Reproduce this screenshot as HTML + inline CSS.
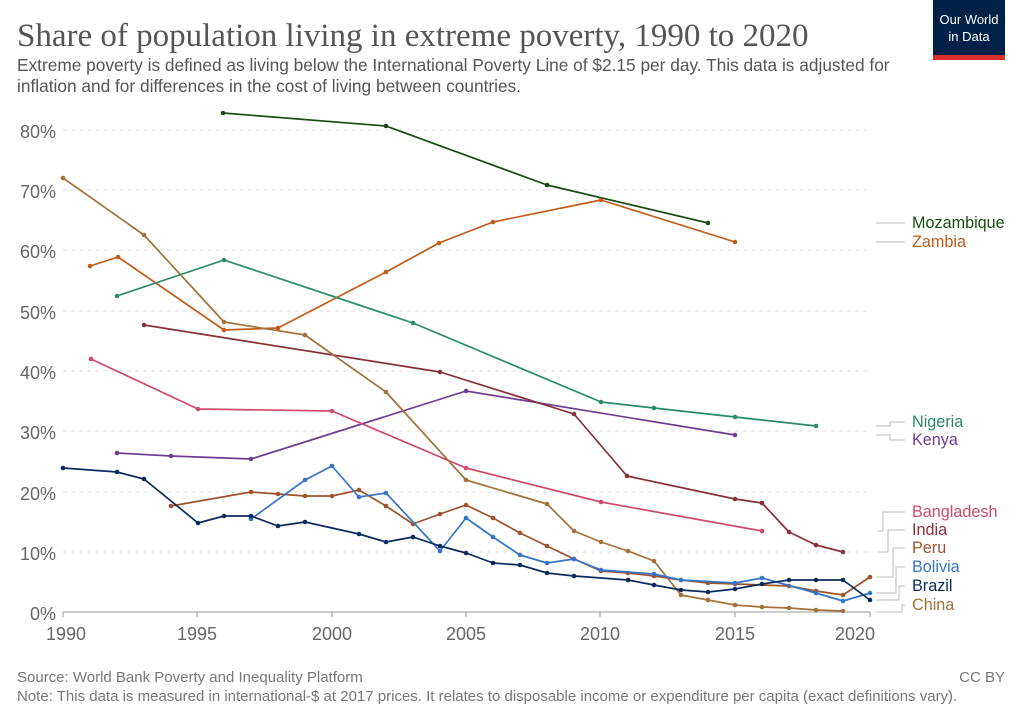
<!DOCTYPE html><html><head><meta charset="utf-8"><style>
body{margin:0;background:#fff;width:1024px;height:722px;overflow:hidden;font-family:"Liberation Sans",sans-serif}
</style></head><body>
<svg width="1024" height="722" xmlns="http://www.w3.org/2000/svg" font-family="Liberation Sans, sans-serif">
<defs>
<marker id="m1" markerUnits="userSpaceOnUse" markerWidth="6" markerHeight="6" refX="3" refY="3"><circle cx="3" cy="3" r="2.3" fill="#1a4b14"/></marker>
<marker id="m2" markerUnits="userSpaceOnUse" markerWidth="6" markerHeight="6" refX="3" refY="3"><circle cx="3" cy="3" r="2.3" fill="#c15c1b"/></marker>
<marker id="m3" markerUnits="userSpaceOnUse" markerWidth="6" markerHeight="6" refX="3" refY="3"><circle cx="3" cy="3" r="2.3" fill="#2a8a6a"/></marker>
<marker id="m4" markerUnits="userSpaceOnUse" markerWidth="6" markerHeight="6" refX="3" refY="3"><circle cx="3" cy="3" r="2.3" fill="#6d3e91"/></marker>
<marker id="m5" markerUnits="userSpaceOnUse" markerWidth="6" markerHeight="6" refX="3" refY="3"><circle cx="3" cy="3" r="2.3" fill="#883039"/></marker>
<marker id="m6" markerUnits="userSpaceOnUse" markerWidth="6" markerHeight="6" refX="3" refY="3"><circle cx="3" cy="3" r="2.3" fill="#cf4a6a"/></marker>
<marker id="m7" markerUnits="userSpaceOnUse" markerWidth="6" markerHeight="6" refX="3" refY="3"><circle cx="3" cy="3" r="2.3" fill="#a2723a"/></marker>
<marker id="m8" markerUnits="userSpaceOnUse" markerWidth="6" markerHeight="6" refX="3" refY="3"><circle cx="3" cy="3" r="2.3" fill="#a0522d"/></marker>
<marker id="m9" markerUnits="userSpaceOnUse" markerWidth="6" markerHeight="6" refX="3" refY="3"><circle cx="3" cy="3" r="2.3" fill="#3575c8"/></marker>
<marker id="m10" markerUnits="userSpaceOnUse" markerWidth="6" markerHeight="6" refX="3" refY="3"><circle cx="3" cy="3" r="2.3" fill="#0d2a5c"/></marker>
</defs>
<text x="17" y="46" font-family="Liberation Serif, serif" font-size="33" fill="#555">Share of population living in extreme poverty, 1990 to 2020</text>
<text x="17" y="71" font-size="17.3" fill="#555">Extreme poverty is defined as living below the International Poverty Line of $2.15 per day. This data is adjusted for</text>
<text x="17" y="92" font-size="17.3" fill="#555">inflation and for differences in the cost of living between countries.</text>
<rect x="933" y="0" width="72" height="55" fill="#002147"/><rect x="933" y="55" width="72" height="5" fill="#dc2f2f"/>
<text x="969" y="24" font-size="13" fill="#fff" text-anchor="middle">Our World</text>
<text x="969" y="41" font-size="13" fill="#fff" text-anchor="middle">in Data</text>
<g stroke="#ddd" stroke-dasharray="4,4" stroke-width="1">
<line x1="63" x2="870" y1="130" y2="130"/><line x1="63" x2="870" y1="190" y2="190"/><line x1="63" x2="870" y1="250" y2="250"/><line x1="63" x2="870" y1="311" y2="311"/><line x1="63" x2="870" y1="371" y2="371"/><line x1="63" x2="870" y1="431" y2="431"/><line x1="63" x2="870" y1="492" y2="492"/><line x1="63" x2="870" y1="552" y2="552"/>
</g>
<line x1="63" x2="870" y1="612" y2="612" stroke="#999"/>
<g font-size="18" fill="#666" text-anchor="end">
<text x="56" y="138">80%</text><text x="56" y="198">70%</text><text x="56" y="258">60%</text><text x="56" y="319">50%</text><text x="56" y="379">40%</text><text x="56" y="439">30%</text><text x="56" y="500">20%</text><text x="56" y="560">10%</text><text x="56" y="620">0%</text>
</g>
<g stroke="#999"><line x1="63" x2="63" y1="612" y2="617"/><line x1="197" x2="197" y1="612" y2="617"/><line x1="332" x2="332" y1="612" y2="617"/><line x1="466" x2="466" y1="612" y2="617"/><line x1="600" x2="600" y1="612" y2="617"/><line x1="735" x2="735" y1="612" y2="617"/><line x1="870" x2="870" y1="612" y2="617"/></g>
<g font-size="18" fill="#666" text-anchor="middle">
<text x="66" y="640">1990</text><text x="197" y="640">1995</text><text x="332" y="640">2000</text><text x="466" y="640">2005</text><text x="600" y="640">2010</text><text x="735" y="640">2015</text><text x="855" y="640">2020</text>
</g>
<g fill="none" stroke-width="1.7" stroke-linejoin="round">
<polyline stroke="#1a4b14" marker-start="url(#m1)" marker-mid="url(#m1)" marker-end="url(#m1)" points="223,113 386,126 547,185 708,223"/>
<polyline stroke="#c15c1b" marker-start="url(#m2)" marker-mid="url(#m2)" marker-end="url(#m2)" points="90,266 118,257 224,330 278,328 386,272 439,243 493,222 601,200 735,242"/>
<polyline stroke="#2a8a6a" marker-start="url(#m3)" marker-mid="url(#m3)" marker-end="url(#m3)" points="117,296 224,260 413,323 601,402 654,408 735,417 816,426"/>
<polyline stroke="#6d3e91" marker-start="url(#m4)" marker-mid="url(#m4)" marker-end="url(#m4)" points="117,453 171,456 251,459 466,391 735,435"/>
<polyline stroke="#883039" marker-start="url(#m5)" marker-mid="url(#m5)" marker-end="url(#m5)" points="144,325 440,372 574,414 627,476 735,499 762,503 789,532 816,545 843,552"/>
<polyline stroke="#cf4a6a" marker-start="url(#m6)" marker-mid="url(#m6)" marker-end="url(#m6)" points="91,359 198,409 332,411 466,468 601,502 762,531"/>
<polyline stroke="#a2723a" marker-start="url(#m7)" marker-mid="url(#m7)" marker-end="url(#m7)" points="63,178 144,235 224,322 305,335 386,392 466,480 547,504 574,531 601,542 628,551 654,561 681,595 708,600 735,605 762,607 789,608 816,610 843,611"/>
<polyline stroke="#a0522d" marker-start="url(#m8)" marker-mid="url(#m8)" marker-end="url(#m8)" points="171,506 251,492 278,494 305,496 332,496 359,490 386,506 413,524 440,514 466,505 493,518 520,533 547,546 574,559 601,571 628,573 654,576 681,580 708,583 735,584 789,586 816,591 843,595 870,577"/>
<polyline stroke="#3575c8" marker-start="url(#m9)" marker-mid="url(#m9)" marker-end="url(#m9)" points="251,519 305,480 332,466 359,497 386,493 440,551 466,518 493,537 520,555 547,563 574,559 601,570 654,574 681,580 735,583 762,578 816,593 843,601 870,593"/>
<polyline stroke="#0d2a5c" marker-start="url(#m10)" marker-mid="url(#m10)" marker-end="url(#m10)" points="63,468 117,472 144,479 198,523 224,516 251,516 278,526 305,522 359,534 386,542 413,537 440,546 466,553 493,563 520,565 547,573 574,576 628,580 654,585 681,590 708,592 735,589 762,584 789,580 816,580 843,580 870,600"/>
</g>
<g stroke="#bbb" fill="none" stroke-width="1">
<polyline points="876,223 905,223"/><polyline points="876,242 905,242"/>
<polyline points="876,426 890,426 890,422 905,422"/><polyline points="876,435 890,435 890,440 905,440"/>
<polyline points="878,531 883,531 883,512 905,512"/><polyline points="878,552 888,552 888,530 905,530"/>
<polyline points="876,577 893,577 893,548 905,548"/><polyline points="876,593 896,593 896,567 905,567"/>
<polyline points="876,600 899,600 899,586 905,586"/><polyline points="876,612 902,612 902,605 905,605"/>
</g>
<g font-size="16.2">
<text x="912" y="228" fill="#1a4b14">Mozambique</text><text x="912" y="247" fill="#c15c1b">Zambia</text>
<text x="912" y="427" fill="#2a8a6a">Nigeria</text><text x="912" y="445" fill="#6d3e91">Kenya</text>
<text x="912" y="517" fill="#cf4a6a">Bangladesh</text><text x="912" y="535" fill="#883039">India</text>
<text x="912" y="553" fill="#a0522d">Peru</text><text x="912" y="572" fill="#3575c8">Bolivia</text>
<text x="912" y="591" fill="#0d2a5c">Brazil</text><text x="912" y="610" fill="#a2723a">China</text>
</g>
<text x="17" y="682" font-size="15" fill="#777">Source: World Bank Poverty and Inequality Platform</text>
<text x="1005" y="682" font-size="15" fill="#777" text-anchor="end">CC BY</text>
<text x="17" y="701" font-size="15" fill="#777">Note: This data is measured in international-$ at 2017 prices. It relates to disposable income or expenditure per capita (exact definitions vary).</text>
</svg>
</body></html>
